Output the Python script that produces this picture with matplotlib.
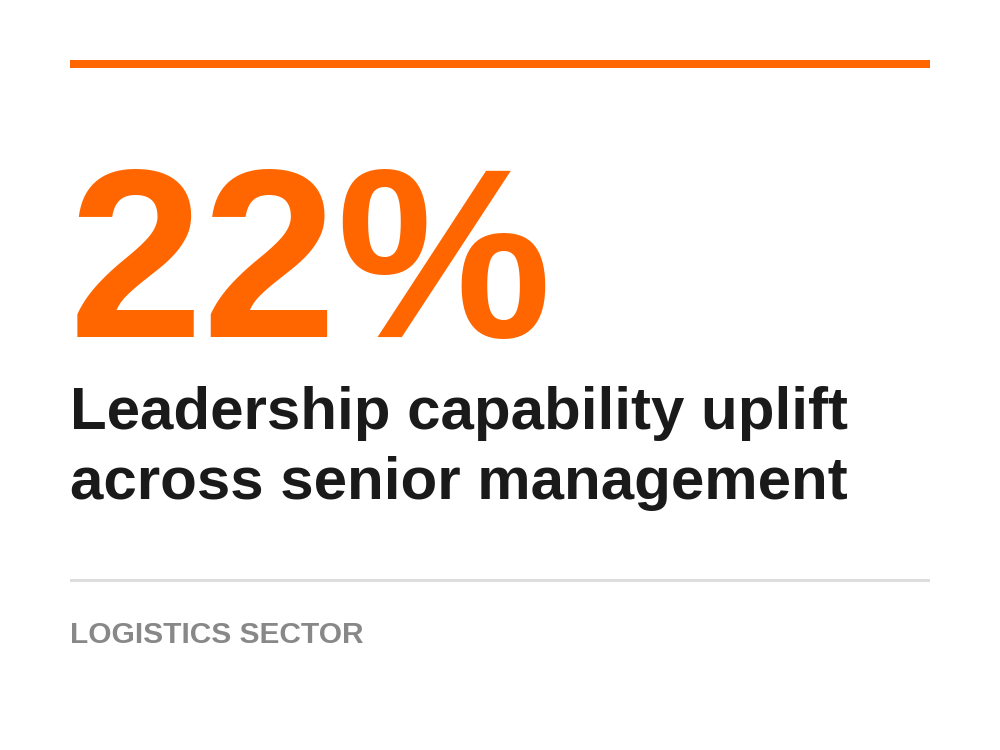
import matplotlib
matplotlib.use("Agg")
import matplotlib.pyplot as plt
from matplotlib.patches import Rectangle

value = [22]
headline = ["Leadership capability uplift", "across senior management"]
sector = ["LOGISTICS SECTOR"]

W, H = 1000, 750
fig = plt.figure(figsize=(10, 7.5), dpi=100)
fig.patch.set_facecolor("white")
FONT = "Liberation Sans"

def y(px):
    return 1 - px / H

fig.patches.append(Rectangle((70 / W, y(68)), 860 / W, 8 / H, transform=fig.transFigure,
                             color="#FF6600", lw=0))
fig.text(70 / W - 0.001, y(337), f"{value[0]}%", fontsize=174, fontweight="bold",
         color="#FF6600", family=FONT, va="baseline", ha="left")
for i, line in enumerate(headline):
    fig.text(70 / W, y(429 + 70 * i), line, fontsize=43.2, fontweight="bold",
             color="#1a1a1a", family=FONT, va="baseline", ha="left")
fig.patches.append(Rectangle((70 / W, y(582)), 860 / W, 3 / H, transform=fig.transFigure,
                             color="#dddddd", lw=0))
fig.text(70 / W, y(643), sector[0], fontsize=21.5, fontweight="bold",
         color="#888888", family=FONT, va="baseline", ha="left")

fig.savefig("out.png", dpi=100, facecolor="white")
